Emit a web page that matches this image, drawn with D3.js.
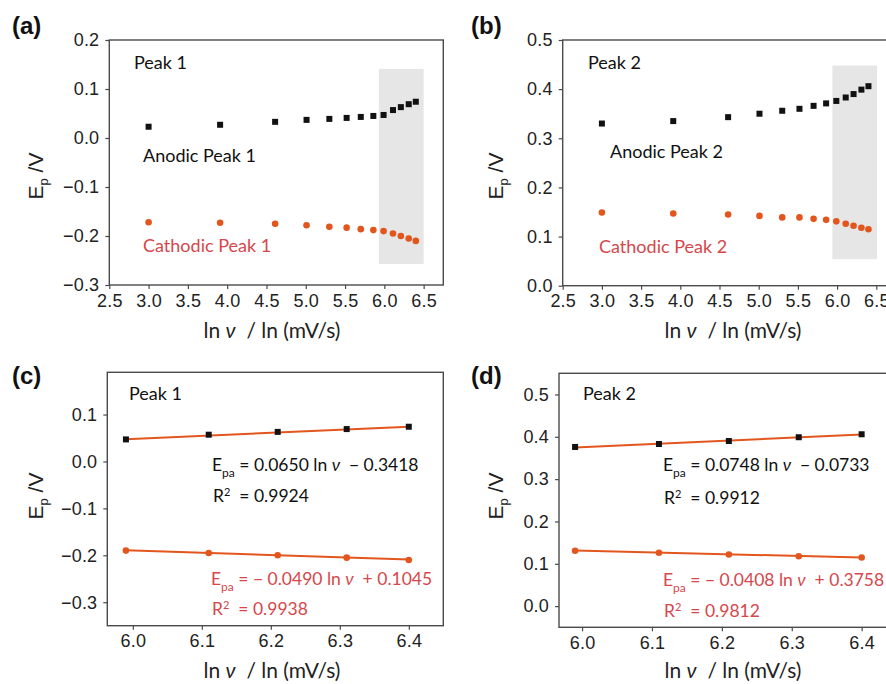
<!DOCTYPE html>
<html>
<head>
<meta charset="utf-8">
<script src="https://cdn.jsdelivr.net/npm/d3@7"></script>
<style>
  html, body { margin: 0; padding: 0; background: #fff; }
  svg { display: block; }
  .tick text { font-family: "Liberation Sans", Arial, sans-serif; font-size: 18px; letter-spacing: 0.2px; fill: #222; }
  .note { font-family: Lato, "Open Sans", sans-serif; font-size: 18px; }
  .eq { font-family: Lato, "Open Sans", sans-serif; font-size: 17.5px; }
  .axtitle { font-family: Lato, "Open Sans", sans-serif; font-size: 21px; fill: #222; }
  .ytitle { font-family: "Liberation Sans", Arial, sans-serif; font-size: 21px; fill: #222; }
  .plabel { font-family: "Liberation Sans", Arial, sans-serif; font-size: 24px; font-weight: bold; fill: #111; }
</style>
</head>
<body>
<svg id="fig" width="886" height="684"></svg>
<script>
// ln of scan rate (20 ... 600 mV/s)
const lnScanRate = [3.00, 3.91, 4.61, 5.01, 5.30, 5.52, 5.70, 5.86, 5.99, 6.11, 6.21, 6.31, 6.40];

// Peak potentials (V)
const anodic1   = [0.023, 0.027, 0.033, 0.037, 0.039, 0.041, 0.043, 0.045, 0.047, 0.057, 0.063, 0.069, 0.074];
const cathodic1 = [-0.172, -0.173, -0.175, -0.178, -0.181, -0.183, -0.186, -0.188, -0.190, -0.195, -0.200, -0.205, -0.210];
const anodic2   = [0.330, 0.335, 0.343, 0.350, 0.356, 0.360, 0.366, 0.371, 0.376, 0.383, 0.390, 0.399, 0.406];
const cathodic2 = [0.149, 0.147, 0.145, 0.142, 0.139, 0.139, 0.136, 0.134, 0.131, 0.126, 0.122, 0.118, 0.115];

// index from which the high-rate points are fitted
const fitStart = 8;

// linear fits: [slope, intercept, R²]
const fitAnodic1   = [0.0650, -0.3418, 0.9924];
const fitCathodic1 = [-0.0490, 0.1045, 0.9938];
const fitAnodic2   = [0.0748, -0.0733, 0.9912];
const fitCathodic2 = [-0.0408, 0.3758, 0.9812];

// axis ticks
const xTicksWide = [2.5, 3.0, 3.5, 4.0, 4.5, 5.0, 5.5, 6.0, 6.5];
const xTicksFit  = [6.0, 6.1, 6.2, 6.3, 6.4];
const yTicksA = [-0.3, -0.2, -0.1, 0.0, 0.1, 0.2];
const yTicksB = [0.0, 0.1, 0.2, 0.3, 0.4, 0.5];
const yTicksC = [-0.3, -0.2, -0.1, 0.0, 0.1];
const yTicksD = [0.0, 0.1, 0.2, 0.3, 0.4, 0.5];

// shaded high-rate window [x0, x1, y0, y1]
const shadeA = [5.93, 6.50, -0.257, 0.141];
const shadeB = [5.94, 6.51, 0.054, 0.448];

const BLACK = "#111";
const ORANGE = "#e2561e";
const RED = "#d6474b";
const FRAME = "#4a4a4a";

const svg = d3.select("#fig");
const fmt = d => (d < 0 ? "\u2212" : "") + Math.abs(d).toFixed(1);

function panel(o) {
  const x = d3.scaleLinear().domain(o.xDomain).range(o.xRange);
  const y = d3.scaleLinear().domain(o.yDomain).range(o.yRange);
  const g = svg.append("g");

  if (o.shade) {
    const s = o.shade;
    g.append("rect")
      .attr("x", x(s[0])).attr("width", x(s[1]) - x(s[0]))
      .attr("y", y(s[3])).attr("height", y(s[2]) - y(s[3]))
      .attr("fill", "#e6e6e6");
  }

  // frame
  g.append("rect")
    .attr("x", o.xRange[0]).attr("y", o.yRange[1])
    .attr("width", o.xRange[1] - o.xRange[0]).attr("height", o.yRange[0] - o.yRange[1])
    .attr("fill", "none").attr("stroke", FRAME).attr("stroke-width", 1.4);

  const xAxis = g.append("g").attr("transform", `translate(0,${o.yRange[0]})`)
    .call(d3.axisBottom(x).tickValues(o.xTicks).tickFormat(d => d.toFixed(1)).tickSize(4).tickPadding(5));
  const yAxis = g.append("g").attr("transform", `translate(${o.xRange[0]},0)`)
    .call(d3.axisLeft(y).tickValues(o.yTicks).tickFormat(fmt).tickSize(4).tickPadding(6));
  [xAxis, yAxis].forEach(a => {
    a.select(".domain").remove();
    a.selectAll(".tick line").attr("stroke", FRAME).attr("stroke-width", 1.2);
  });

  // fit lines
  if (o.fits) {
    const xs = o.lnX;
    o.fits.forEach(f => {
      g.append("line")
        .attr("x1", x(xs[0])).attr("y1", y(f[0] * xs[0] + f[1]))
        .attr("x2", x(xs[xs.length - 1])).attr("y2", y(f[0] * xs[xs.length - 1] + f[1]))
        .attr("stroke", ORANGE).attr("stroke-width", 2);
    });
  }

  // anodic: squares
  g.selectAll(".sq").data(o.anodic).join("rect")
    .attr("x", (d, i) => x(o.lnX[i]) - 3).attr("y", d => y(d) - 3)
    .attr("width", 6).attr("height", 6).attr("fill", BLACK);
  // cathodic: circles
  g.selectAll(".ci").data(o.cathodic).join("circle")
    .attr("cx", (d, i) => x(o.lnX[i])).attr("cy", d => y(d))
    .attr("r", 3.3).attr("fill", ORANGE);

  // notes
  o.notes.forEach(n => {
    g.append("text").attr("class", "note").attr("x", n[0]).attr("y", n[1])
      .attr("fill", n[3]).text(n[2]);
  });

  // equations
  if (o.eqs) {
    o.eqs.forEach(e => {
      const [fit, px, py, py2, col] = e;
      const t = g.append("text").attr("class", "eq").attr("x", px).attr("y", py).attr("fill", col)
        .attr("xml:space", "preserve");
      t.append("tspan").text("E");
      t.append("tspan").attr("dy", 6).attr("font-size", 12).text("pa");
      const sl = fit[0] < 0 ? "\u2212 " + Math.abs(fit[0]).toFixed(4) : fit[0].toFixed(4);
      t.append("tspan").attr("dy", -6).text(" = " + sl + " ln ");
      t.append("tspan").attr("font-style", "italic").text("\u03bd");
      const ic = fit[1] < 0 ? "  \u2212 " + Math.abs(fit[1]).toFixed(4) : "  + " + fit[1].toFixed(4);
      t.append("tspan").text(ic);
      const r = g.append("text").attr("class", "eq").attr("x", px + 1).attr("y", py2).attr("fill", col)
        .attr("xml:space", "preserve");
      r.append("tspan").text("R");
      r.append("tspan").attr("dy", -6).attr("font-size", 11).text("2");
      r.append("tspan").attr("dy", 6).text("  = " + fit[2].toFixed(4));
    });
  }

  // axis titles
  const xt = svg.append("text").attr("class", "axtitle")
    .attr("x", o.xTitle[0]).attr("y", o.xTitle[1]).attr("text-anchor", "middle")
    .attr("xml:space", "preserve");
  xt.append("tspan").text("ln ");
  xt.append("tspan").attr("font-style", "italic").text("\u03bd");
  xt.append("tspan").text("  / ln (mV/s)");

  const yt = svg.append("text").attr("class", "ytitle")
    .attr("transform", `translate(${o.yTitle[0]},${o.yTitle[1]}) rotate(-90)`)
    .attr("text-anchor", "middle");
  yt.append("tspan").text("E");
  yt.append("tspan").attr("dy", 5).attr("font-size", 13).text("p");
  yt.append("tspan").attr("dy", -5).text(" /V");

  svg.append("text").attr("class", "plabel").attr("x", o.label[0]).attr("y", o.label[1]).text(o.label[2]);
}

panel({
  xDomain: [2.5, 6.75], xRange: [109.3, 443.3],
  yDomain: [-0.3, 0.2], yRange: [285, 40],
  xTicks: xTicksWide, yTicks: yTicksA,
  lnX: lnScanRate, anodic: anodic1, cathodic: cathodic1,
  shade: shadeA,
  notes: [[134, 69, "Peak 1", BLACK], [143, 162, "Anodic Peak 1", BLACK], [143, 252, "Cathodic Peak 1", RED]],
  xTitle: [272, 338], yTitle: [43, 176], label: [12, 34, "(a)"]
});

panel({
  xDomain: [2.5, 6.75], xRange: [562.7, 895.9],
  yDomain: [0, 0.5], yRange: [285.7, 40],
  xTicks: xTicksWide, yTicks: yTicksB,
  lnX: lnScanRate, anodic: anodic2, cathodic: cathodic2,
  shade: shadeB,
  notes: [[588, 69, "Peak 2", BLACK], [610, 158, "Anodic Peak 2", BLACK], [599, 253, "Cathodic Peak 2", RED]],
  xTitle: [733, 338], yTitle: [503, 176], label: [471, 34, "(b)"]
});

panel({
  xDomain: [5.963, 6.45], xRange: [107.3, 443.3],
  yDomain: [-0.35, 0.19], yRange: [625.7, 372.3],
  xTicks: xTicksFit, yTicks: yTicksC,
  lnX: lnScanRate.slice(fitStart), anodic: anodic1.slice(fitStart), cathodic: cathodic1.slice(fitStart),
  fits: [fitAnodic1, fitCathodic1],
  eqs: [[fitAnodic1, 212, 471, 502, BLACK], [fitCathodic1, 211, 585, 615, RED]],
  notes: [[129, 400, "Peak 1", BLACK]],
  xTitle: [272, 678], yTitle: [43, 496], label: [12, 384, "(c)"]
});

panel({
  xDomain: [5.967, 6.45], xRange: [559, 896.6],
  yDomain: [-0.05, 0.55], yRange: [627.3, 373.3],
  xTicks: xTicksFit, yTicks: yTicksD,
  lnX: lnScanRate.slice(fitStart), anodic: anodic2.slice(fitStart), cathodic: cathodic2.slice(fitStart),
  fits: [fitAnodic2, fitCathodic2],
  eqs: [[fitAnodic2, 663, 471, 504, BLACK], [fitCathodic2, 663, 586, 617, RED]],
  notes: [[583, 400, "Peak 2", BLACK]],
  xTitle: [733, 678], yTitle: [503, 496], label: [471, 384, "(d)"]
});
</script>
</body>
</html>
